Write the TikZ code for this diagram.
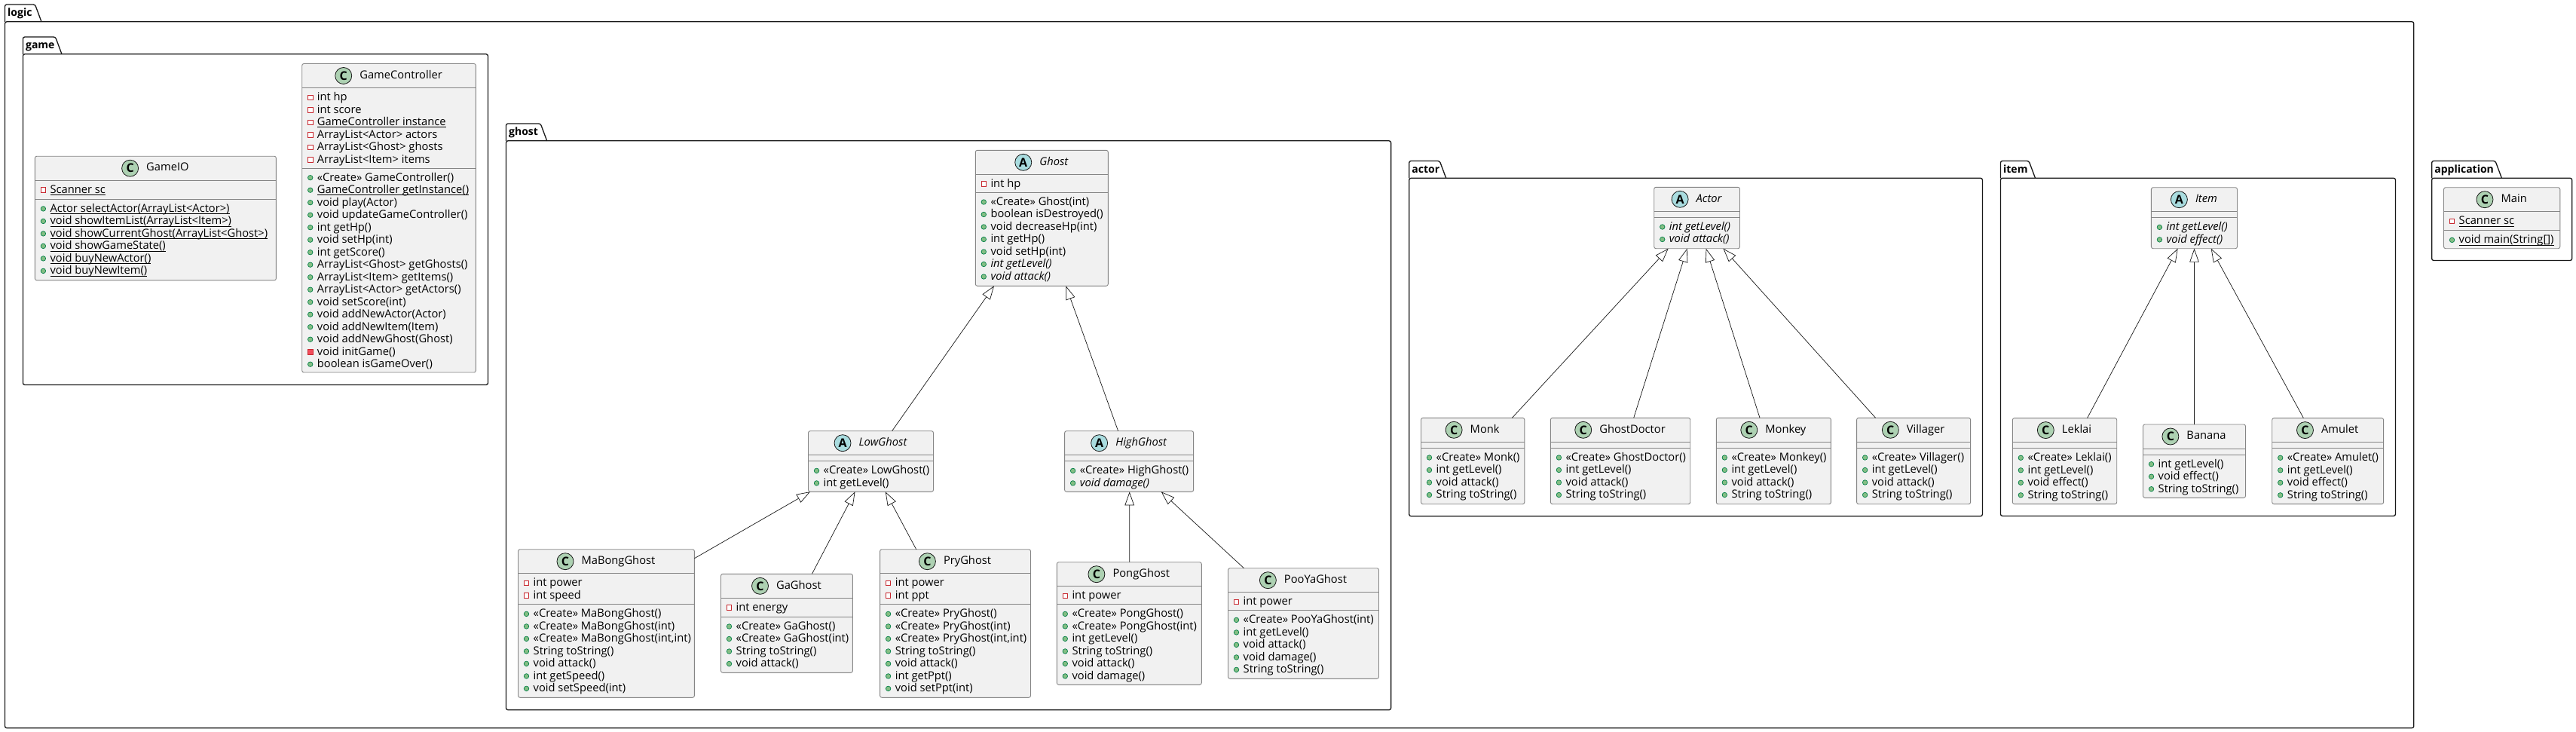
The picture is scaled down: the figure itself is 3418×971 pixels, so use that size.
\documentclass[tikz,border=0pt]{standalone}
\usepackage{fontspec}
\setmainfont{Open Sans}
\usetikzlibrary{arrows.meta, positioning, calc}
\definecolor{boxfill}{HTML}{F1F1F1}
\definecolor{boxline}{HTML}{858585}
\definecolor{inkline}{HTML}{181818}
\definecolor{classgreen}{HTML}{ADD1B2}
\definecolor{abstractblue}{HTML}{A9DCDF}
\definecolor{publine}{HTML}{038048}
\definecolor{pubfill}{HTML}{84BE84}
\definecolor{privline}{HTML}{C82930}
\definecolor{privfill}{HTML}{F24D5C}
\newsavebox{\stbox}
\newcommand{\St}[1]{\sbox{\stbox}{#1}\usebox{\stbox}\llap{\rule[-2.7pt]{\wd\stbox}{0.8pt}}}
\newcommand{\Ab}[1]{\textit{#1}}
\tikzset{
    klass/.style={draw=boxline, fill=boxfill, line width=0.9pt, rounded corners=2.5pt, inner sep=0pt, outer sep=0pt, anchor=north west},
    divider/.style={draw=boxline, line width=0.9pt},
    titleC/.style={inner sep=0pt, text height=10.5pt, text depth=3pt, font=\fontsize{14.7}{16}\selectfont},
    titleA/.style={titleC, font=\fontsize{14.7}{16}\selectfont\itshape},
    iconC/.style={circle, draw=inkline, fill=classgreen, line width=0.8pt, minimum size=22pt, inner sep=0pt, font=\fontsize{16}{16}\selectfont\bfseries},
    iconA/.style={iconC, fill=abstractblue},
    rowtext/.style={anchor=west, inner sep=0pt, text height=10.5pt, text depth=3pt, font=\fontsize{14.7}{16}\selectfont},
    pub/.style={circle, draw=publine, fill=pubfill, line width=0.7pt, minimum size=6.5pt, inner sep=0pt},
    priv/.style={rectangle, draw=privline, fill=white, line width=0.8pt, minimum size=6.5pt, inner sep=0pt},
    privm/.style={priv, fill=privfill},
    pack/.style={draw=inkline, line width=1.3pt, rounded corners=2.5pt, inner sep=0pt, outer sep=0pt, anchor=north west},
    packtab/.style={draw=inkline, line width=1.3pt, rounded corners=2.5pt},
    packlabel/.style={anchor=west, inner sep=0pt, text height=10.5pt, text depth=3pt, font=\fontsize{14}{16}\selectfont\bfseries},
    extends/.style={draw=inkline, line width=0.7pt, -{Triangle[open, length=18pt, width=12.5pt, fill=white]}},
}
% name, left, tab top, tab right, right, bottom
\newcommand{\Pack}[6]{
    \node[pack, minimum width=#5pt-#2pt, minimum height=#6pt-#3pt-22.8pt] (pkg-#1) at (#2,#3+22.8) {};
    \draw[packtab] (pkg-#1.north west) -- (#2,#3) -- (#4-8.5,#3) [sharp corners] -- (#4,#3+22.8);
    \node[packlabel] (pkg-#1-label) at (#2+3.5,#3+12) {#1};
}
% name, C or A, left, top, width, height, height of the field part, fields, methods
\newcommand{\Klass}[9]{
    \node[klass, minimum width=#5pt, minimum height=#6pt] (#1) at (#3,#4) {};
    \node[title#2] (#1-title) at ($(#1.north)+(16,16)$) {#1};
    \node[icon#2, left=10pt of #1-title] (#1-icon) {#2};
    \draw[divider] ($(#1.north west)+(0,32)$) -- ($(#1.north east)+(0,32)$);
    \draw[divider] ($(#1.north west)+(0,{32+#7})$) -- ($(#1.north east)+(0,{32+#7})$);
    \foreach \vis/\txt [count=\r from 0] in {#8} {
        \node[\vis] (#1-fm\r) at ($(#1.north west)+(11,{44.7+\r*16.5})$) {};
        \node[rowtext] (#1-f\r) at ($(#1.north west)+(20,{45.3+\r*16.5})$) {\txt};
    }
    \foreach \vis/\txt [count=\r from 0] in {#9} {
        \node[\vis] (#1-mm\r) at ($(#1.north west)+(11,{44.7+#7+\r*16.5})$) {};
        \node[rowtext] (#1-m\r) at ($(#1.north west)+(20,{45.3+#7+\r*16.5})$) {\txt};
    }
}
\begin{document}
\begin{tikzpicture}[x=1pt, y=-1pt]
    \path[use as bounding box, fill=white] (0,0) rectangle (3418,971);

    \Pack{logic}{6.5}{6}{55}{3202.8}{965.7}
    \Pack{game}{30.4}{49}{82}{647.5}{510.5}
    \Pack{ghost}{671.5}{164}{725.7}{1845.6}{941.7}
    \Pack{actor}{1869.7}{213.5}{1918.7}{2630.4}{684.7}
    \Pack{item}{2654.4}{213.5}{2700.5}{3178.5}{684.4}
    \Pack{application}{3226.6}{213.5}{3319.4}{3412.7}{345.5}

    % game
    \Klass{GameIO}{C}{46.4}{207.2}{320}{164.7}{25}{priv/\St{Scanner sc}}{pub/\St{Actor selectActor(ArrayList<Actor>)}, pub/\St{void showItemList(ArrayList<Item>)}, pub/\St{void showCurrentGhost(ArrayList<Ghost>)}, pub/\St{void showGameState()}, pub/\St{void buyNewActor()}, pub/\St{void buyNewItem()}}
    \Klass{GameController}{C}{400.7}{84.5}{230.7}{409.5}{106.5}{priv/int hp, priv/int score, priv/\St{GameController instance}, priv/ArrayList<Actor> actors, priv/ArrayList<Ghost> ghosts, priv/ArrayList<Item> items}{pub/«Create» GameController(), pub/\St{GameController getInstance()}, pub/void play(Actor), pub/void updateGameController(), pub/int getHp(), pub/void setHp(int), pub/int getScore(), pub/ArrayList<Ghost> getGhosts(), pub/ArrayList<Item> getItems(), pub/ArrayList<Actor> getActors(), pub/void setScore(int), pub/void addNewActor(Actor), pub/void addNewItem(Item), pub/void addNewGhost(Ghost), privm/void initGame(), pub/boolean isGameOver()}

    % ghost
    \Klass{Ghost}{A}{1294.3}{199.3}{176}{180}{24}{priv/int hp}{pub/«Create» Ghost(int), pub/boolean isDestroyed(), pub/void decreaseHp(int), pub/int getHp(), pub/void setHp(int), pub/\Ab{int getLevel()}, pub/\Ab{void attack()}}
    \Klass{LowGhost}{A}{1072.5}{571.7}{166}{80.6}{8}{}{pub/«Create» LowGhost(), pub/int getLevel()}
    \Klass{HighGhost}{A}{1412.6}{571.7}{171}{80.6}{8}{}{pub/«Create» HighGhost(), pub/\Ab{void damage()}}
    \Klass{MaBongGhost}{C}{687.5}{728.7}{233.9}{196.6}{41}{priv/int power, priv/int speed}{pub/«Create» MaBongGhost(), pub/«Create» MaBongGhost(int), pub/{«Create» MaBongGhost(int,int)}, pub/String toString(), pub/void attack(), pub/int getSpeed(), pub/void setSpeed(int)}
    \Klass{GaGhost}{C}{956.5}{761.3}{174.9}{131}{25}{priv/int energy}{pub/«Create» GaGhost(), pub/«Create» GaGhost(int), pub/String toString(), pub/void attack()}
    \Klass{PryGhost}{C}{1167.6}{728.7}{199.9}{196.6}{41}{priv/int power, priv/int ppt}{pub/«Create» PryGhost(), pub/«Create» PryGhost(int), pub/{«Create» PryGhost(int,int)}, pub/String toString(), pub/void attack(), pub/int getPpt(), pub/void setPpt(int)}
    \Klass{PongGhost}{C}{1402.3}{745.7}{192}{162.6}{24}{priv/int power}{pub/«Create» PongGhost(), pub/«Create» PongGhost(int), pub/int getLevel(), pub/String toString(), pub/void attack(), pub/void damage()}
    \Klass{PooYaGhost}{C}{1629.5}{753.7}{200}{146.6}{24}{priv/int power}{pub/«Create» PooYaGhost(int), pub/int getLevel(), pub/void attack(), pub/void damage(), pub/String toString()}

    % actor
    \Klass{Actor}{A}{2194.7}{248.3}{113.8}{81.4}{8}{}{pub/\Ab{int getLevel()}, pub/\Ab{void attack()}}
    \Klass{Monk}{C}{1885.5}{554.3}{137.3}{114.4}{8}{}{pub/«Create» Monk(), pub/int getLevel(), pub/void attack(), pub/String toString()}
    \Klass{GhostDoctor}{C}{2057.4}{554.3}{185.3}{114.4}{8}{}{pub/«Create» GhostDoctor(), pub/int getLevel(), pub/void attack(), pub/String toString()}
    \Klass{Monkey}{C}{2277.3}{554.3}{152.1}{114.4}{8}{}{pub/«Create» Monkey(), pub/int getLevel(), pub/void attack(), pub/String toString()}
    \Klass{Villager}{C}{2463.6}{554.3}{151}{114.4}{8}{}{pub/«Create» Villager(), pub/int getLevel(), pub/void attack(), pub/String toString()}

    % item
    \Klass{Item}{A}{2854.4}{248.7}{114.1}{81}{8}{}{pub/\Ab{int getLevel()}, pub/\Ab{void effect()}}
    \Klass{Leklai}{C}{2670.3}{554.6}{138.4}{114}{8}{}{pub/«Create» Leklai(), pub/int getLevel(), pub/void effect(), pub/String toString()}
    \Klass{Banana}{C}{2843.5}{563}{136}{97.3}{8}{}{pub/int getLevel(), pub/void effect(), pub/String toString()}
    \Klass{Amulet}{C}{3014.7}{554.6}{147.9}{114}{8}{}{pub/«Create» Amulet(), pub/int getLevel(), pub/void effect(), pub/String toString()}

    % application
    \Klass{Main}{C}{3242.5}{248.7}{154.3}{81}{25}{priv/\St{Scanner sc}}{pub/\St{void main(String[])}}

    \draw[extends] ($(LowGhost.north west)+(111.1,0)$) -- ($(Ghost.south west)+(24.7,0)$);
    \draw[extends] ($(HighGhost.north west)+(71,0)$) -- ($(Ghost.south west)+(120,0)$);
    \draw[extends] ($(MaBongGhost.north east)+(0,12)$) -- ($(LowGhost.south west)+(2.5,0)$);
    \draw[extends] ($(GaGhost.north west)+(120.9,0)$) -- ($(LowGhost.south west)+(62,0)$);
    \draw[extends] ($(PryGhost.north west)+(48.1,0)$) -- ($(LowGhost.south west)+(102.3,0)$);
    \draw[extends] ($(PongGhost.north west)+(96.4,0)$) -- ($(HighGhost.south west)+(86.1,0)$);
    \draw[extends] ($(PooYaGhost.north west)+(21,0)$) -- ($(HighGhost.south west)+(128.1,0)$);

    \draw[extends] ($(Monk.north west)+(120.9,0)$) -- ($(Actor.south west)+(18.9,0)$);
    \draw[extends] ($(GhostDoctor.north west)+(110.3,0)$) -- ($(Actor.south west)+(43.9,0)$);
    \draw[extends] ($(Monkey.north west)+(57.7,0)$) -- ($(Actor.south west)+(68.9,0)$);
    \draw[extends] ($(Villager.north west)+(25,0)$) -- ($(Actor.south west)+(91.8,0)$);

    \draw[extends] ($(Leklai.north west)+(99.2,0)$) -- ($(Item.south west)+(35.2,0)$);
    \draw[extends] ($(Banana.north west)+(68,0)$) -- ($(Item.south west)+(57.1,0)$);
    \draw[extends] ($(Amulet.north west)+(41.7,0)$) -- ($(Item.south west)+(79.4,0)$);
\end{tikzpicture}
\end{document}
